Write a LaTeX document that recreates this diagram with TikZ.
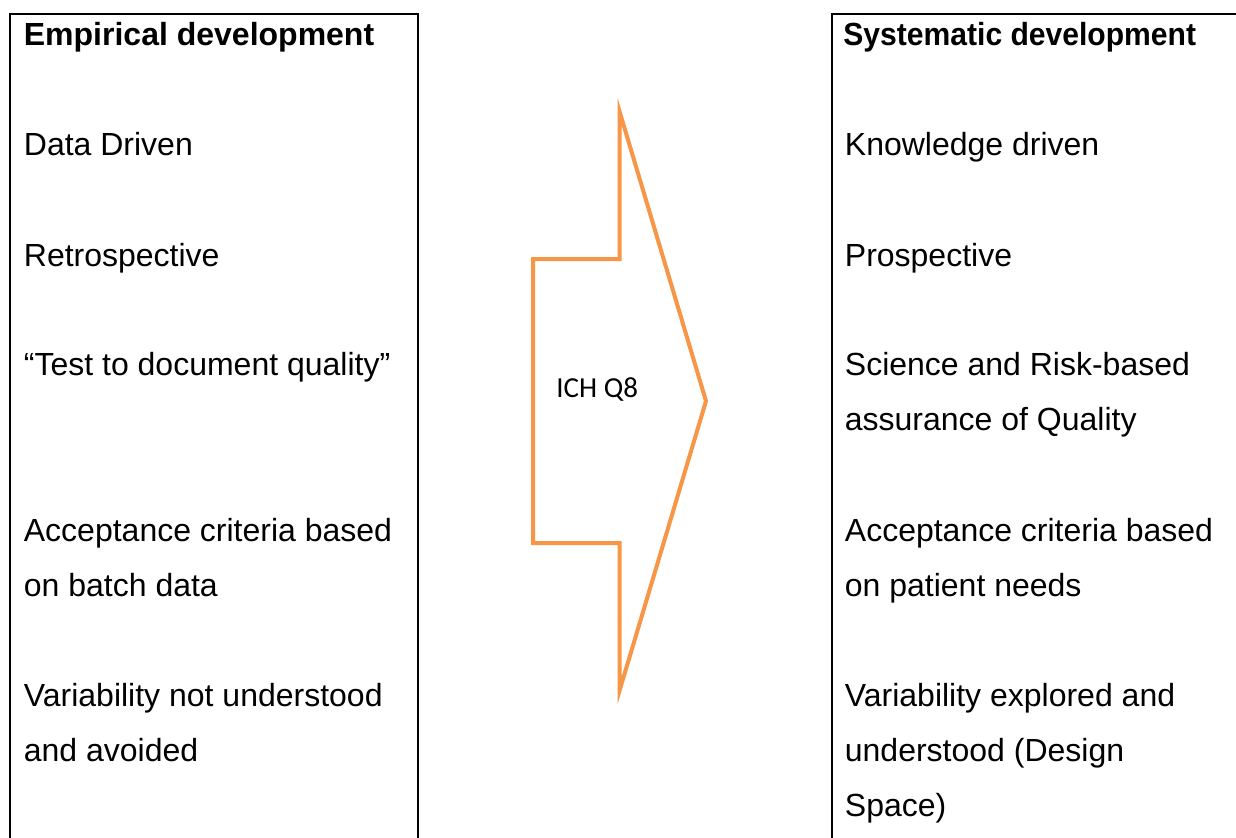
\documentclass[tikz,border=0pt]{standalone}
\usepackage{fontspec}
\usepackage{graphicx}
\setmainfont{Liberation Sans}
\newfontfamily\calibrilike{Carlito}
\begin{document}
\begin{tikzpicture}[x=0.5pt,y=-0.5pt,
  frame/.style={draw=black,line width=1pt},
  item/.style={anchor=base west,inner sep=0pt,font=\fontsize{16pt}{19pt}\selectfont},
  head/.style={item,font=\fontsize{16pt}{19pt}\selectfont\bfseries},
  shift arrow/.style={draw={rgb,255:red,247;green,150;blue,70},line width=2pt,line join=miter,miter limit=10}]
\clip (0,0) rectangle (1236,837);

% left column frame (open at the bottom)
\draw[frame] (10,840) -- (10,14) -- (418,14) -- (418,840);
% right column frame (open at the bottom and right)
\draw[frame] (832,840) -- (832,14) -- (1240,14);

% left column
\node[head] (lh) at (23.5,45) {Empirical development};
\node[item] (l1) at (23.5,155) {Data Driven};
\node[item] (l2) at (23.5,266) {Retrospective};
\node[item] (l3) at (23.5,375.5) {“Test to document quality”};
\node[item] (l4a) at (23.5,541.5) {Acceptance criteria based};
\node[item] (l4b) at (23.5,596.5) {on batch data};
\node[item] (l5a) at (23.5,706.5) {Variability not understood};
\node[item] (l5b) at (23.5,761.5) {and avoided};

% right column (heading slightly narrowed to fit the column)
\node[head] (rh) at (843,45) {\scalebox{0.94}[1]{Systematic development}};
\node[item] (r1) at (844.5,155) {Knowledge driven};
\node[item] (r2) at (844.5,266) {Prospective};
\node[item] (r3a) at (844.5,375.5) {Science and Risk-based};
\node[item] (r3b) at (844.5,430.5) {assurance of Quality};
\node[item] (r4a) at (844.5,541.5) {Acceptance criteria based};
\node[item] (r4b) at (844.5,596.5) {on patient needs};
\node[item] (r5a) at (844.5,706.5) {Variability explored and};
\node[item] (r5b) at (844.5,761.5) {understood (Design};
\node[item] (r5c) at (844.5,816.5) {Space)};

% block arrow between the columns
\draw[shift arrow] (533,259) -- (619.7,259) -- (619.7,112) -- (706,401)
  -- (619.7,690) -- (619.7,543) -- (533,543) -- cycle;
\node[anchor=base west,inner sep=0pt,font=\calibrilike\fontsize{14.5pt}{17pt}\selectfont] (ich) at (556,397) {ICH Q8};
\end{tikzpicture}
\end{document}
